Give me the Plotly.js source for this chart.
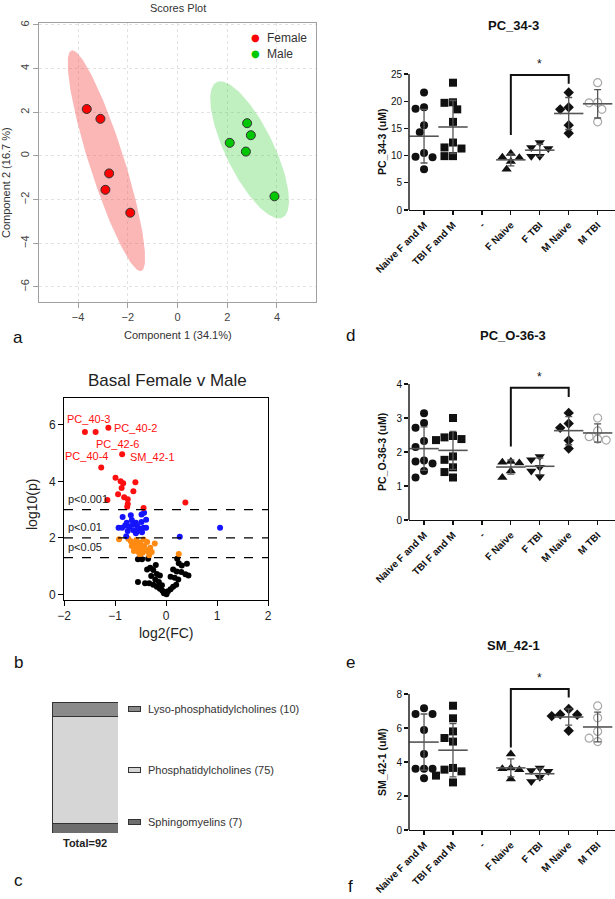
<!DOCTYPE html>
<html><head><meta charset="utf-8">
<script src="https://cdn.plot.ly/plotly-3.0.1.min.js"></script>
<style>html,body{margin:0;padding:0;background:#fff;} #chart{width:615px;height:899px;}</style>
</head><body><div id="chart"></div>
<script>
// ---------------- DATA ----------------
// Panel a: PLS-DA scores
const femaleC1 = [-3.65, -3.1, -2.75, -2.9, -1.9];
const femaleC2 = [2.15, 1.7, -0.8, -1.55, -2.6];
const maleC1 = [2.8, 2.95, 2.1, 2.75, 3.9];
const maleC2 = [1.5, 0.95, 0.6, 0.2, -1.85];
const scoreTicksX = [-4, -2, 0, 2, 4];
const scoreTicksY = [-6, -4, -2, 0, 2, 4, 6];

// Panel b: volcano (log2 FC, -log10 p)
const redFC = [-1.59,-1.38,-1.13,-0.86,-1.27,-0.99,-0.89,-0.84,-0.60,-0.87,-0.64,-0.94,-0.82,-0.75,-1.15,-0.75,-0.76,-0.44,0.38];
const redP  = [5.75,5.75,5.90,4.96,4.49,4.13,4.00,3.93,3.97,3.76,3.65,3.54,3.44,3.37,3.34,3.20,3.10,3.06,3.25];
const redLabels = ['PC_40-3','PC_42-6','PC_40-2','SM_42-1','PC_40-4'];
const blueFC = [-0.85,-0.69,-0.48,-0.43,-0.39,-0.67,-0.77,-0.59,-0.48,-0.93,-0.86,-0.80,-0.72,-0.65,-0.56,-0.51,-0.44,-0.39,-0.75,-0.64,-0.56,-0.47,-0.78,-0.59,0.27,1.06];
const blueP  = [2.74,2.80,2.83,2.89,2.64,2.63,2.53,2.53,2.56,2.36,2.36,2.44,2.38,2.47,2.41,2.32,2.36,2.36,2.24,2.27,2.24,2.20,2.06,2.16,2.04,2.36];
const orangeFC = [-0.92,-0.74,-0.69,-0.63,-0.58,-0.51,-0.44,-0.37,-0.22,-0.67,-0.59,-0.51,-0.43,-0.31,-0.63,-0.54,-0.46,-0.37,-0.28,-0.51,-0.33,0.25,-0.60,-0.41];
const orangeP  = [1.95,1.97,1.88,1.83,1.92,1.83,1.94,1.85,1.80,1.71,1.65,1.65,1.71,1.65,1.53,1.50,1.47,1.53,1.50,1.41,1.38,1.43,1.73,1.57];
const blackFC = [-0.55,-0.47,-0.35,0.22,-0.20,-0.31,-0.37,-0.25,0.25,0.31,0.41,0.14,0.21,0.30,0.38,-0.18,-0.12,0.09,0.17,0.24,-0.55,-0.41,-0.33,-0.25,-0.18,-0.12,-0.07,-0.01,0.04,0.09,0.14,0.20,-0.04,0.01,-0.14,-0.21,-0.29,-0.08,0.44];
const blackP  = [1.24,1.24,1.26,1.26,1.04,0.94,0.88,0.86,1.10,1.02,1.08,0.88,0.81,0.79,0.71,0.72,0.67,0.62,0.59,0.53,0.44,0.39,0.39,0.34,0.27,0.20,0.13,0.08,0.11,0.18,0.27,0.34,0.04,0.00,0.44,0.53,0.65,0.32,0.67];
const pThresholds = [0.001, 0.01, 0.05];
const volTicksX = [-2, -1, 0, 1, 2];
const volTicksY = [0, 2, 4, 6];

// Panel c: lipid classes (stacked, bottom to top)
const classNames = ['Sphingomyelins', 'Phosphatidylcholines', 'Lyso-phosphatidylcholines'];
const classCounts = [7, 75, 10];

// Panels d-f: dot plots
const groupLabels = ['Naive F and M', 'TBI F and M', '-', 'F Naive', 'F TBI', 'M Naive', 'M TBI'];

const pc343_naiveFM = [21.6, 18.9, 18.6, 15.6, 14.3, 10.5, 9.8, 9.7, 9.1, 7.5];
const pc343_tbiFM   = [23.4, 19.8, 19.7, 18.5, 16.2, 12.4, 11.5, 11.3, 9.9, 9.9];
const pc343_fNaive  = [10.4, 9.7, 9.6, 8.9, 7.5];
const pc343_fTBI    = [12.4, 11.5, 11.3, 9.9, 9.9];
const pc343_mNaive  = [21.6, 18.9, 18.5, 15.6, 14.1];
const pc343_mTBI    = [23.4, 19.8, 19.7, 18.5, 16.2];
const pc343_ticks   = [0, 5, 10, 15, 20, 25];
const pc343_bracket = [13.8, 24.8, 23.2];

const pcO363_naiveFM = [3.14, 2.85, 2.71, 2.32, 2.15, 1.75, 1.72, 1.66, 1.44, 1.25];
const pcO363_tbiFM   = [3.0, 2.47, 2.43, 2.38, 2.35, 1.87, 1.77, 1.55, 1.41, 1.25];
const pcO363_fNaive  = [1.72, 1.70, 1.68, 1.44, 1.25];
const pcO363_fTBI    = [1.87, 1.77, 1.55, 1.44, 1.27];
const pcO363_mNaive  = [3.15, 2.84, 2.71, 2.34, 2.10];
const pcO363_mTBI    = [3.0, 2.62, 2.45, 2.38, 2.35];
const pcO363_ticks   = [0, 1, 2, 3, 4];
const pcO363_bracket = [2.16, 3.89, 3.62];

const sm421_naiveFM = [7.16, 6.82, 6.82, 6.7, 5.88, 4.47, 3.61, 3.61, 3.61, 3.04];
const sm421_tbiFM   = [7.31, 6.57, 5.8, 5.41, 5.2, 3.65, 3.55, 3.45, 3.2, 2.8];
const sm421_fNaive  = [4.47, 3.65, 3.6, 3.55, 3.0];
const sm421_fTBI    = [3.65, 3.5, 3.45, 3.1, 2.85];
const sm421_mNaive  = [7.12, 6.8, 6.78, 6.7, 5.84];
const sm421_mTBI    = [7.3, 6.6, 5.8, 5.4, 5.2];
const sm421_ticks   = [0, 2, 4, 6, 8];
const sm421_bracket = [4.86, 8.3, 7.8];

// ---------------- BUILD ----------------
const W = 615, H = 899;
const FONT = 'Liberation Sans, Arial, sans-serif';
const px = x => x / W;
const py = y => 1 - y / H;
const traces = [], annotations = [], shapes = [];
const layout = {
  width: W, height: H, margin: {l:0, r:0, t:0, b:0}, autosize: false,
  paper_bgcolor: '#fff', plot_bgcolor: 'rgba(0,0,0,0)', showlegend: false,
  barmode: 'stack', font: {family: FONT, color: '#222'}
};
function ann(o){ annotations.push(Object.assign({showarrow:false, font:{family:FONT}}, o)); }
function paperText(text, x, y, size, opts){
  ann(Object.assign({text, xref:'paper', yref:'paper', x:px(x), y:py(y), xanchor:'center', yanchor:'middle',
    font:{family:FONT, size, color:'#222'}}, opts||{}));
}

// ----- Panel a -----
function ellipse(xs, ys, n){
  const m = xs.length;
  const mx = xs.reduce((a,b)=>a+b,0)/m, my = ys.reduce((a,b)=>a+b,0)/m;
  let sxx=0, syy=0, sxy=0;
  for (let i=0;i<m;i++){ const dx=xs[i]-mx, dy=ys[i]-my; sxx+=dx*dx; syy+=dy*dy; sxy+=dx*dy; }
  sxx/=(m-1); syy/=(m-1); sxy/=(m-1);
  const tr=sxx+syy, det=sxx*syy-sxy*sxy, disc=Math.sqrt(tr*tr/4-det);
  const l1=tr/2+disc, l2=tr/2-disc;
  const th=Math.atan2(l1-sxx, sxy);
  const k=Math.sqrt(5.991);
  const ex=[], ey=[];
  for (let i=0;i<=n;i++){
    const t=2*Math.PI*i/n;
    const a=k*Math.sqrt(l1)*Math.cos(t), b=k*Math.sqrt(l2)*Math.sin(t);
    ex.push(mx+a*Math.cos(th)-b*Math.sin(th)); ey.push(my+a*Math.sin(th)+b*Math.cos(th));
  }
  return {ex, ey};
}
const fe = ellipse(femaleC1, femaleC2, 160), me = ellipse(maleC1, maleC2, 160);
traces.push({type:'scatter', x:fe.ex, y:fe.ey, mode:'lines', fill:'toself', fillcolor:'rgba(245,80,80,0.42)', line:{width:0}, hoverinfo:'skip', xaxis:'x', yaxis:'y'});
traces.push({type:'scatter', x:me.ex, y:me.ey, mode:'lines', fill:'toself', fillcolor:'rgba(60,205,60,0.32)', line:{width:0}, hoverinfo:'skip', xaxis:'x', yaxis:'y'});
traces.push({type:'scatter', x:femaleC1, y:femaleC2, mode:'markers', name:'Female', marker:{size:9, color:'#FF0000', line:{color:'#333', width:1}}, xaxis:'x', yaxis:'y'});
traces.push({type:'scatter', x:maleC1, y:maleC2, mode:'markers', name:'Male', marker:{size:9, color:'#00C800', line:{color:'#333', width:1}}, xaxis:'x', yaxis:'y'});
layout.xaxis = {domain:[px(39), px(316)], range:[-5.57, 5.57], tickvals:scoreTicksX, showgrid:true, gridcolor:'#e2e2e2', griddash:'dot', zeroline:false,
  showline:true, mirror:true, linecolor:'#a0a0a0', ticks:'outside', ticklen:5, tickcolor:'#a0a0a0', tickfont:{size:11, color:'#444', family:FONT}, anchor:'y'};
layout.yaxis = {domain:[py(302), py(23)], range:[-6.69, 6.09], tickvals:scoreTicksY, tickangle:-90, showgrid:true, gridcolor:'#e2e2e2', griddash:'dot', zeroline:false,
  showline:true, mirror:true, linecolor:'#a0a0a0', ticks:'outside', ticklen:5, tickcolor:'#a0a0a0', tickfont:{size:11, color:'#444', family:FONT}, anchor:'x'};
paperText('Scores Plot', 178, 8, 11, {font:{family:FONT, size:11, color:'#333'}});
paperText('Component 1 (34.1%)', 178, 335, 11, {font:{family:FONT, size:11, color:'#333'}});
paperText('Component 2 (16.7 %)', 6, 183, 11, {textangle:-90, font:{family:FONT, size:11, color:'#333'}});
paperText('●', 255, 38, 11, {font:{family:'DejaVu Sans', size:10, color:'#FF0000'}});
paperText('Female', 265, 38, 12, {xanchor:'left', font:{family:FONT, size:12, color:'#333'}});
paperText('●', 255, 54, 11, {font:{family:'DejaVu Sans', size:10, color:'#00C800'}});
paperText('Male', 265, 54, 12, {xanchor:'left', font:{family:FONT, size:12, color:'#333'}});

// ----- Panel b -----
const volSets = [[blackFC, blackP, '#000000'], [orangeFC, orangeP, '#FF8A12'], [blueFC, blueP, '#1414FF'], [redFC, redP, '#FF1010']];
volSets.forEach(s => traces.push({type:'scatter', x:s[0], y:s[1], mode:'markers', marker:{size:6, color:s[2]}, xaxis:'x2', yaxis:'y2', cliponaxis:false}));
layout.xaxis2 = {domain:[px(64), px(268)], range:[-2, 2], tickvals:volTicksX, showgrid:false, zeroline:false, showline:true, mirror:true, linecolor:'#000', linewidth:1,
  ticks:'outside', ticklen:5, tickcolor:'#000', tickfont:{size:12, family:FONT, color:'#222'}, anchor:'y2'};
layout.yaxis2 = {domain:[py(600), py(398)], range:[-0.2, 6.95], tickvals:volTicksY, showgrid:false, zeroline:false, showline:true, mirror:true, linecolor:'#000', linewidth:1,
  ticks:'outside', ticklen:5, tickcolor:'#000', tickfont:{size:12, family:FONT, color:'#222'}, anchor:'x2'};
pThresholds.forEach(p => {
  const y = -Math.log10(p);
  shapes.push({type:'line', xref:'x2 domain', x0:0, x1:1, yref:'y2', y0:y, y1:y, line:{color:'#000', width:1.2, dash:'dash'}});
  ann({text:'p<' + p, xref:'x2', yref:'y2', x:-1.97, y:y, xanchor:'left', yanchor:'bottom', yshift:3, font:{family:FONT, size:11, color:'#222'}});
});
const labelPlace = [
  {xanchor:'center', yanchor:'bottom', xshift:4, yshift:5},
  {xanchor:'left', yanchor:'top', xshift:-2, yshift:-4},
  {xanchor:'left', yanchor:'middle', xshift:4, yshift:0},
  {xanchor:'left', yanchor:'middle', xshift:6, yshift:-3},
  {xanchor:'right', yanchor:'bottom', xshift:9, yshift:4}
];
redLabels.forEach((t, i) => ann(Object.assign({text:t, xref:'x2', yref:'y2', x:redFC[i], y:redP[i], font:{family:FONT, size:11, color:'#FF1010'}}, labelPlace[i])));
paperText('Basal Female v Male', 167, 380, 17, {font:{family:FONT, size:17, color:'#222'}});
paperText('log2(FC)', 166, 633, 14, {font:{family:FONT, size:14, color:'#222'}});
paperText('log10(p)', 32, 505, 14, {textangle:-90, font:{family:FONT, size:14, color:'#222'}});

// ----- Panel c -----
const classColors = ['#6e6e6e', '#d6d6d6', '#8a8a8a'];
const labelNudge = [-6, 0, 0];
const totalCount = classCounts.reduce((a,b)=>a+b,0);
let cum = 0;
classCounts.forEach((c, i) => {
  traces.push({type:'bar', x:[0], y:[c], width:1, marker:{color:classColors[i], line:{color:'#333', width:1}}, xaxis:'x3', yaxis:'y3', hoverinfo:'skip'});
  const mid = cum + c/2; cum += c;
  ann({text:' ', xref:'paper', yref:'y3', x:px(134.5), y:mid, yshift:-labelNudge[i], xanchor:'center', yanchor:'middle', width:11, height:4, borderpad:0,
       bgcolor:classColors[i], bordercolor:'#333', borderwidth:1, font:{size:3}});
  ann({text:classNames[i] + ' (' + c + ')', xref:'paper', yref:'y3', x:px(146), y:mid, yshift:-labelNudge[i], xanchor:'left', yanchor:'middle', font:{family:FONT, size:11, color:'#333'}});
});
layout.xaxis3 = {domain:[px(52), px(118)], range:[-0.5, 0.5], visible:false, anchor:'y3'};
layout.yaxis3 = {domain:[py(833), py(702)], range:[0, totalCount], visible:false, anchor:'x3'};
ann({text:'<b>Total=' + totalCount + '</b>', xref:'x3', yref:'y3', x:0, y:0, xanchor:'center', yanchor:'top', yshift:-2, font:{family:FONT, size:11, color:'#222'}});

// ----- Panels d-f -----
const groupStyle = [
  {symbol:'circle', color:'#111', size:8},
  {symbol:'square', color:'#111', size:8},
  null,
  {symbol:'triangle-up', color:'#111', size:9},
  {symbol:'triangle-down', color:'#111', size:9},
  {symbol:'diamond', color:'#111', size:8},
  {symbol:'circle-open', color:'#a8a8a8', size:8}
];
function swarm(vals, ppu, ppc, d){
  const placed = []; const res = new Array(vals.length);
  const order = vals.map((v,i)=>i).sort((a,b)=>vals[b]-vals[a]);
  order.forEach(i => {
    const yp = vals[i]*ppu;
    let chosen = 0;
    for (let s=0; s<40; s++){
      const cands = s===0 ? [0] : [-s*d/2, s*d/2];
      let ok = null;
      for (const c of cands){
        if (placed.every(p => (p[0]-c)*(p[0]-c) + (p[1]-yp)*(p[1]-yp) >= d*d*0.9)) { ok = c; break; }
      }
      if (ok !== null){ chosen = ok; break; }
    }
    placed.push([chosen, yp]);
    res[i] = chosen/ppc;
  });
  return res;
}
function mean(a){ return a.reduce((s,v)=>s+v,0)/a.length; }
function sd(a){ const m=mean(a); return Math.sqrt(a.reduce((s,v)=>s+(v-m)*(v-m),0)/(a.length-1)); }

function dotPanel(k, title, ytitle, groups, ticks, bracket){
  const xa = 'x' + (4+k), ya = 'y' + (4+k);
  const zeroPx = 210 + 310*k;
  const tickMax = ticks[ticks.length-1];
  const rangeTop = tickMax*1.12;
  const ppu = 136/tickMax;
  const topPx = zeroPx - rangeTop*ppu;
  const xr = [-0.52, 6.6];
  const ppc = (W - 409)/(xr[1]-xr[0]);
  layout['xaxis' + (4+k)] = {domain:[px(409), 1], range:xr, tickvals:groupLabels.map((g,i)=>i), ticktext:groupLabels, tickangle:-45,
    showgrid:false, zeroline:false, showline:true, linecolor:'#111', linewidth:1.4, ticks:'outside', ticklen:4, tickwidth:1.2, tickcolor:'#111',
    tickfont:{family:FONT, size:10, color:'#111', weight:'bold'}, anchor:ya};
  layout['yaxis' + (4+k)] = {domain:[py(zeroPx), py(topPx)], range:[0, rangeTop], tickvals:ticks, showgrid:false, zeroline:false, showline:false,
    ticks:'outside', ticklen:4, tickwidth:1.2, tickcolor:'#111', tickfont:{family:FONT, size:10, color:'#111'}, anchor:xa};
  shapes.push({type:'line', xref:'paper', x0:px(409), x1:px(409), yref:ya, y0:0, y1:tickMax, line:{color:'#111', width:1.4}});
  groups.forEach((vals, gi) => {
    if (!vals) return;
    const st = groupStyle[gi];
    const offs = swarm(vals, ppu, ppc, 8.5);
    traces.push({type:'scatter', mode:'markers', x:vals.map((v,i)=>gi+offs[i]), y:vals, xaxis:xa, yaxis:ya, cliponaxis:false, hoverinfo:'skip',
      marker:{symbol:st.symbol, size:st.size, color:st.color, line:{color:st.color, width: st.symbol.indexOf('open')>=0 ? 1.2 : 0}}});
    traces.push({type:'scatter', mode:'markers', x:[gi], y:[mean(vals)], xaxis:xa, yaxis:ya, cliponaxis:false, hoverinfo:'skip',
      marker:{symbol:'line-ew', size:21, color:'#555', line:{color:'#555', width:1.6}},
      error_y:{type:'data', array:[sd(vals)], visible:true, width:3.5, thickness:1.3, color:'#555'}});
  });
  traces.push({type:'scatter', mode:'lines', x:[3,3,5,5], y:[bracket[0], bracket[1], bracket[1], bracket[2]], xaxis:xa, yaxis:ya, hoverinfo:'skip',
    line:{color:'#111', width:2}});
  ann({text:'*', xref:xa, yref:ya, x:4, y:bracket[1], yanchor:'bottom', yshift:2, font:{family:FONT, size:12, color:'#111'}});
  paperText('<b>' + title + '</b>', 513, 25 + 310*k, 13, {font:{family:FONT, size:13, color:'#111'}});
  ann({text:'<b>' + ytitle + '</b>', xref:'paper', yref:ya, x:px(382), y:tickMax/2, xanchor:'center', yanchor:'middle', textangle:-90,
    font:{family:FONT, size:10.5, color:'#111'}});
}
dotPanel(0, 'PC_34-3', 'PC_34-3 (uM)', [pc343_naiveFM, pc343_tbiFM, null, pc343_fNaive, pc343_fTBI, pc343_mNaive, pc343_mTBI], pc343_ticks, pc343_bracket);
dotPanel(1, 'PC_O-36-3', 'PC_O-36-3 (uM)', [pcO363_naiveFM, pcO363_tbiFM, null, pcO363_fNaive, pcO363_fTBI, pcO363_mNaive, pcO363_mTBI], pcO363_ticks, pcO363_bracket);
dotPanel(2, 'SM_42-1', 'SM_42-1 (uM)', [sm421_naiveFM, sm421_tbiFM, null, sm421_fNaive, sm421_fTBI, sm421_mNaive, sm421_mTBI], sm421_ticks, sm421_bracket);

// panel letters
[['a',18,337],['b',18,662],['c',18,880],['d',350,335],['e',350,662],['f',350,886]].forEach(l =>
  paperText(l[0], l[1], l[2], 17, {font:{family:FONT, size:17, color:'#111'}}));

layout.annotations = annotations;
layout.shapes = shapes;
Plotly.newPlot('chart', traces, layout, {staticPlot:true, displayModeBar:false});
</script>
</body></html>
